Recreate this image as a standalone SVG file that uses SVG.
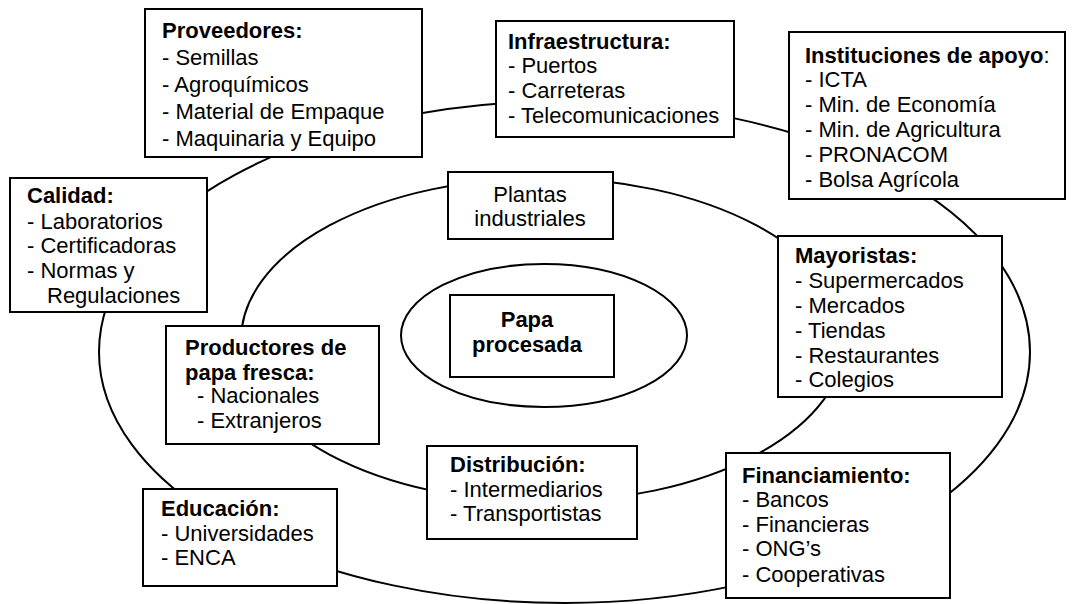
<svg xmlns="http://www.w3.org/2000/svg" width="1073" height="604" viewBox="0 0 1073 604">
<style>
.bg{fill:#ffffff}
.ring{fill:none;stroke:#000;stroke-width:2}
.box{fill:#ffffff;stroke:#000;stroke-width:2}
text{font-family:"Liberation Sans",Arial,Helvetica,sans-serif;font-size:22px;fill:#000}
.b{font-weight:bold}
.c{text-anchor:middle}
</style>
<rect class="bg" x="0" y="0" width="1073" height="604"/>
<g id="connectors">
<ellipse class="ring" cx="564.5" cy="352" rx="465.5" ry="251"/>
<ellipse class="ring" cx="543" cy="340" rx="302" ry="162"/>
<ellipse class="ring" cx="544" cy="335.5" rx="143" ry="71.5"/>
</g>
<g id="proveedores">
<rect class="box" x="145" y="9" width="277" height="148"/>
<text x="162" y="38" class="b">Proveedores:</text>
<text x="162" y="65">- Semillas</text>
<text x="162" y="92">- Agroquímicos</text>
<text x="162" y="119">- Material de Empaque</text>
<text x="162" y="146">- Maquinaria y Equipo</text>
</g>
<g id="infraestructura">
<rect class="box" x="496" y="21" width="238" height="116"/>
<text x="508" y="49" class="b">Infraestructura:</text>
<text x="508" y="73">- Puertos</text>
<text x="508" y="98">- Carreteras</text>
<text x="508" y="123">- Telecomunicaciones</text>
</g>
<g id="instituciones">
<rect class="box" x="789" y="32" width="276" height="167"/>
<text x="805" y="63"><tspan class="b">Instituciones de apoyo</tspan>:</text>
<text x="805" y="87">- ICTA</text>
<text x="805" y="112">- Min. de Economía</text>
<text x="805" y="137">- Min. de Agricultura</text>
<text x="805" y="162">- PRONACOM</text>
<text x="805" y="187">- Bolsa Agrícola</text>
</g>
<g id="calidad">
<rect class="box" x="10" y="178" width="197" height="134"/>
<text x="27" y="203" class="b">Calidad:</text>
<text x="27" y="229">- Laboratorios</text>
<text x="27" y="253">- Certificadoras</text>
<text x="27" y="278">- Normas y</text>
<text x="47" y="303">Regulaciones</text>
</g>
<g id="plantas">
<rect class="box" x="448" y="172" width="165" height="67"/>
<text x="530" y="202" class="c">Plantas</text>
<text x="530" y="226" class="c">industriales</text>
</g>
<g id="papa">
<rect class="box" x="450" y="295" width="164" height="82"/>
<text x="527" y="327" class="b c">Papa</text>
<text x="527" y="352" class="b c">procesada</text>
</g>
<g id="mayoristas">
<rect class="box" x="778" y="236" width="224" height="161"/>
<text x="795" y="263" class="b">Mayoristas:</text>
<text x="795" y="288">- Supermercados</text>
<text x="795" y="313">- Mercados</text>
<text x="795" y="338">- Tiendas</text>
<text x="795" y="363">- Restaurantes</text>
<text x="795" y="387">- Colegios</text>
</g>
<g id="productores">
<rect class="box" x="166" y="326" width="213" height="118"/>
<text x="185" y="355" class="b">Productores de</text>
<text x="185" y="380" class="b">papa fresca:</text>
<text x="197" y="403">- Nacionales</text>
<text x="197" y="428">- Extranjeros</text>
</g>
<g id="distribucion">
<rect class="box" x="427" y="446" width="210" height="93"/>
<text x="450" y="472" class="b">Distribución:</text>
<text x="450" y="497">- Intermediarios</text>
<text x="450" y="521">- Transportistas</text>
</g>
<g id="financiamiento">
<rect class="box" x="726" y="453" width="224" height="145"/>
<text x="742" y="483" class="b">Financiamiento:</text>
<text x="742" y="507">- Bancos</text>
<text x="742" y="532">- Financieras</text>
<text x="742" y="556">- ONG’s</text>
<text x="742" y="582">- Cooperativas</text>
</g>
<g id="educacion">
<rect class="box" x="143" y="489" width="194" height="97"/>
<text x="161" y="516" class="b">Educación:</text>
<text x="161" y="541">- Universidades</text>
<text x="161" y="565">- ENCA</text>
</g>
</svg>
